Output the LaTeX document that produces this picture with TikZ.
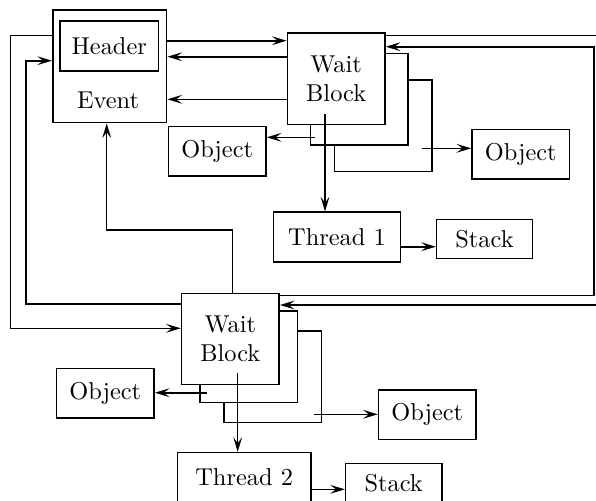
\documentclass[tikz,border=0pt]{standalone}
\usepackage{amsmath}
\usepackage{tikz}
\usetikzlibrary{arrows.meta}

\begin{document}
\begin{tikzpicture}[x=0.41pt, y=-0.41pt, line width=0.65pt,
		>={Stealth[length=6pt, width=3.6pt, inset=2.4pt]},
		main/.style = {draw, fill=white, inner sep=0pt, minimum width=40pt, minimum height=20.3pt},
		wait/.style = {main, minimum height=37.4pt, align=center}]
		\useasboundingbox (0,0) rectangle (596,500);

		\node[main, minimum width=46.7pt, minimum height=46.2pt] (ev) at (109.7,66.3) {};
		\node[main, minimum width=40.2pt, minimum height=20.5pt] (hd) at (109.3,45.7) {Header};
		\node (et) at (108,100) {Event};

		\node[wait] (w1c) at (383.3,125.7) {};
		\node[wait] (w1b) at (359.2,99.2) {};
		\node[wait] (w1) at (336.2,78.7) {Wait\\Block};

		\node[wait] (w2c) at (272.8,376.7) {};
		\node[wait] (w2b) at (248.7,356.7) {};
		\node[wait] (w2) at (230.3,339) {Wait\\Block};

		\node[main] (o1) at (217.2,151.3) {Object};
		\node[main] (o2) at (520.8,154.2) {Object};
		\node[main] (o3) at (105.3,393.3) {Object};
		\node[main] (o4) at (427.3,414.7) {Object};

		\node[main, minimum width=52.2pt] (t1) at (337,237) {Thread 1};
		\node[main, minimum width=39.2pt, minimum height=16pt] (s1) at (484.5,238.8) {Stack};
		\node[main, minimum width=54.8pt] (t2) at (244.2,477.4) {Thread 2};
		\node[main, minimum width=39.4pt, minimum height=16pt] (s2) at (393.7,482.8) {Stack};

		\coordinate (a1) at (315,137.3);
		\coordinate (a2) at (421.7,148.3);
		\coordinate (a3) at (325,114);
		\coordinate (b1) at (206.7,392.7);
		\coordinate (b2) at (314.3,414.3);
		\coordinate (b3) at (237.7,373.3);

		\draw[->] (ev.east |- 0,40.7) -- (w1.west |- 0,40.7);
		\draw[->] (w1.west |- 0,56.7) -- (ev.east |- 0,56.7);
		\draw[->] (w1.west |- 0,99.3) -- (ev.east |- 0,99.3);
		\draw[->] (a1) -- (o1.east |- a1);
		\draw[->] (a2) -- (o2.west |- a2);
		\draw[->] (a3) -- (t1.north -| a3);
		\draw[->] (t1.east |- 0,246.7) -- (s1.west |- 0,246.7);

		\draw[->] (w1.east |- 0,35.5) -- (600,35.5) -- (600,305) -- (w2.east |- 0,305);
		\draw[->] (w2.east |- 0,295.3) -- (594,295.3) -- (594,46.7) -- (w1.east |- 0,46.7);
		\draw[->] (ev.west |- 0,35.3) -- (10.7,35.3) -- (10.7,328.3) -- (w2.west |- 0,328.3);
		\draw[->] (w2.west |- 0,304) -- (26,304) -- (26,60.7) -- (ev.west |- 0,60.7);
		\draw[->] (w2.north -| 232.3,0) -- (232.3,230) -- (106.7,230) -- (ev.south -| 106.7,0);

		\draw[->] (b1) -- (o3.east |- b1);
		\draw[->] (b2) -- (o4.west |- b2);
		\draw[->] (b3) -- (t2.north -| b3);
		\draw[->] (t2.east |- 0,489.3) -- (s2.west |- 0,489.3);
	\end{tikzpicture}
\end{document}
